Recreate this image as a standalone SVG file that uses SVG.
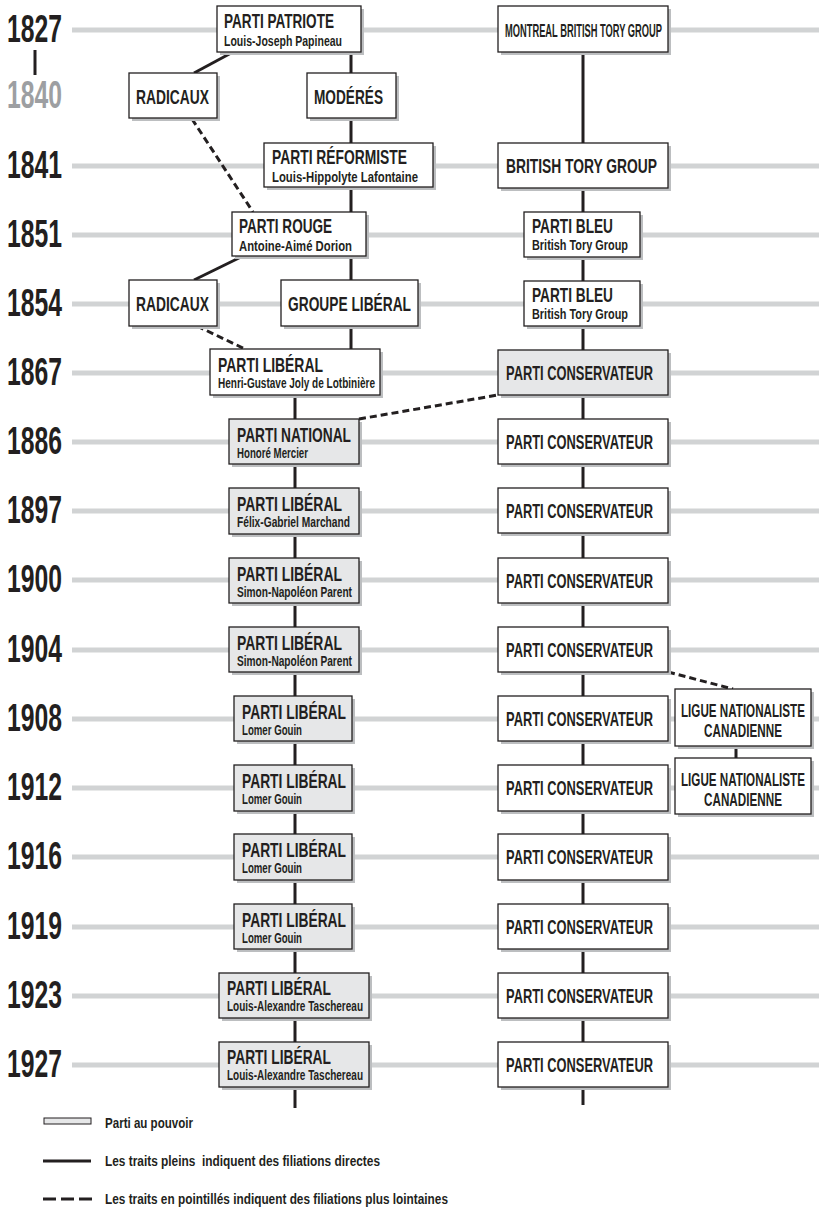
<svg xmlns="http://www.w3.org/2000/svg" width="819" height="1208" viewBox="0 0 819 1208">
<style>
text{font-family:"Liberation Sans Narrow","Liberation Sans",Arial,sans-serif;font-weight:bold;fill:#231f20}
.yr{font-size:39px}
.t{font-size:21px}
.s{font-size:14px}
.lg{font-size:15px}
.row{stroke:#d1d3d4;stroke-width:5}
.box{fill:#fff;stroke:#231f20;stroke-width:1.3}
.pw{fill:#e6e7e8}
.sh{fill:#bcbec0}
.c{stroke:#231f20;stroke-width:3;fill:none}
.d{stroke:#231f20;stroke-width:3;fill:none;stroke-dasharray:7 4}
</style>
<rect width="819" height="1208" fill="#fff"/>
<g id="rows">
<line class="row" x1="72" y1="30" x2="819" y2="30"/>
<line class="row" x1="72" y1="166" x2="819" y2="166"/>
<line class="row" x1="72" y1="235" x2="819" y2="235"/>
<line class="row" x1="72" y1="304" x2="819" y2="304"/>
<line class="row" x1="72" y1="373" x2="819" y2="373"/>
<line class="row" x1="72" y1="442" x2="819" y2="442"/>
<line class="row" x1="72" y1="511" x2="819" y2="511"/>
<line class="row" x1="72" y1="580" x2="819" y2="580"/>
<line class="row" x1="72" y1="650" x2="819" y2="650"/>
<line class="row" x1="72" y1="719" x2="819" y2="719"/>
<line class="row" x1="72" y1="788" x2="819" y2="788"/>
<line class="row" x1="72" y1="857" x2="819" y2="857"/>
<line class="row" x1="72" y1="927" x2="819" y2="927"/>
<line class="row" x1="72" y1="996" x2="819" y2="996"/>
<line class="row" x1="72" y1="1065" x2="819" y2="1065"/>
</g>
<g id="years">
<text class="yr" x="7" y="42" textLength="55" lengthAdjust="spacingAndGlyphs">1827</text>
<line x1="35" y1="50" x2="35" y2="75" stroke="#231f20" stroke-width="3"/>
<text class="yr" x="7" y="108" textLength="55" lengthAdjust="spacingAndGlyphs" style="fill:#9d9fa2">1840</text>
<text class="yr" x="7" y="178" textLength="55" lengthAdjust="spacingAndGlyphs">1841</text>
<text class="yr" x="7" y="247" textLength="55" lengthAdjust="spacingAndGlyphs">1851</text>
<text class="yr" x="7" y="316" textLength="55" lengthAdjust="spacingAndGlyphs">1854</text>
<text class="yr" x="7" y="385" textLength="55" lengthAdjust="spacingAndGlyphs">1867</text>
<text class="yr" x="7" y="454" textLength="55" lengthAdjust="spacingAndGlyphs">1886</text>
<text class="yr" x="7" y="523" textLength="55" lengthAdjust="spacingAndGlyphs">1897</text>
<text class="yr" x="7" y="592" textLength="55" lengthAdjust="spacingAndGlyphs">1900</text>
<text class="yr" x="7" y="662" textLength="55" lengthAdjust="spacingAndGlyphs">1904</text>
<text class="yr" x="7" y="731" textLength="55" lengthAdjust="spacingAndGlyphs">1908</text>
<text class="yr" x="7" y="800" textLength="55" lengthAdjust="spacingAndGlyphs">1912</text>
<text class="yr" x="7" y="869" textLength="55" lengthAdjust="spacingAndGlyphs">1916</text>
<text class="yr" x="7" y="939" textLength="55" lengthAdjust="spacingAndGlyphs">1919</text>
<text class="yr" x="7" y="1008" textLength="55" lengthAdjust="spacingAndGlyphs">1923</text>
<text class="yr" x="7" y="1077" textLength="55" lengthAdjust="spacingAndGlyphs">1927</text>
</g>
<g id="connectors">
<line class="c" x1="233" y1="52" x2="194" y2="73"/>
<line class="c" x1="351" y1="52" x2="351" y2="349"/>
<line class="c" x1="243" y1="256" x2="194" y2="280"/>
<line class="c" x1="295" y1="395" x2="295" y2="1108"/>
<line class="c" x1="583" y1="52" x2="583" y2="1105"/>
<line class="c" x1="736" y1="746" x2="736" y2="758"/>
<line class="d" x1="192" y1="119" x2="253" y2="212"/>
<line class="d" x1="197" y1="326" x2="245" y2="349"/>
<line class="d" x1="359" y1="419" x2="498" y2="395"/>
<line class="d" x1="668" y1="672" x2="733" y2="689"/>
</g>
<g id="n-patriote"><rect class="sh" x="220" y="9" width="144" height="46"/><rect class="box" x="217" y="6" width="144" height="46"/>
<text class="t" x="224" y="28" textLength="110" lengthAdjust="spacingAndGlyphs">PARTI PATRIOTE</text>
<text class="s" x="224" y="46" textLength="118" lengthAdjust="spacingAndGlyphs">Louis-Joseph Papineau</text></g>
<g id="n-radicaux1"><rect class="sh" x="132" y="76" width="88" height="45"/><rect class="box" x="129" y="73" width="88" height="45"/>
<text class="t" x="136" y="104" textLength="73" lengthAdjust="spacingAndGlyphs">RADICAUX</text></g>
<g id="n-moderes"><rect class="sh" x="310" y="76" width="89" height="45"/><rect class="box" x="307" y="73" width="89" height="45"/>
<text class="t" x="314" y="104" textLength="69" lengthAdjust="spacingAndGlyphs">MODÉRÉS</text></g>
<g id="n-reformiste"><rect class="sh" x="267" y="146" width="169" height="44"/><rect class="box" x="264" y="143" width="169" height="44"/>
<text class="t" x="272" y="164" textLength="135" lengthAdjust="spacingAndGlyphs">PARTI RÉFORMISTE</text>
<text class="s" x="272" y="182" textLength="146" lengthAdjust="spacingAndGlyphs">Louis-Hippolyte Lafontaine</text></g>
<g id="n-montreal"><rect class="sh" x="501" y="9" width="170" height="46"/><rect class="box" x="498" y="6" width="170" height="46"/>
<text class="t" x="505" y="37" style="font-size:19px" textLength="157" lengthAdjust="spacingAndGlyphs">MONTREAL BRITISH TORY GROUP</text></g>
<g id="n-btg"><rect class="sh" x="501" y="146" width="170" height="45"/><rect class="box" x="498" y="143" width="170" height="45"/>
<text class="t" x="506" y="173" textLength="151" lengthAdjust="spacingAndGlyphs">BRITISH TORY GROUP</text></g>
<g id="n-rouge"><rect class="sh" x="235" y="215" width="134" height="44"/><rect class="box" x="232" y="212" width="134" height="44"/>
<text class="t" x="239" y="233" textLength="93" lengthAdjust="spacingAndGlyphs">PARTI ROUGE</text>
<text class="s" x="239" y="251" textLength="113" lengthAdjust="spacingAndGlyphs">Antoine-Aimé Dorion</text></g>
<g id="n-bleu1851"><rect class="sh" x="527" y="215" width="116" height="45"/><rect class="box" x="524" y="212" width="116" height="45"/>
<text class="t" x="532" y="233" textLength="81" lengthAdjust="spacingAndGlyphs">PARTI BLEU</text>
<text class="s" x="532" y="250" textLength="96" lengthAdjust="spacingAndGlyphs">British Tory Group</text></g>
<g id="n-radicaux2"><rect class="sh" x="132" y="283" width="88" height="46"/><rect class="box" x="129" y="280" width="88" height="46"/>
<text class="t" x="136" y="311" textLength="73" lengthAdjust="spacingAndGlyphs">RADICAUX</text></g>
<g id="n-groupelib"><rect class="sh" x="284" y="283" width="137" height="46"/><rect class="box" x="281" y="280" width="137" height="46"/>
<text class="t" x="288" y="311" textLength="123" lengthAdjust="spacingAndGlyphs">GROUPE LIBÉRAL</text></g>
<g id="n-bleu1854"><rect class="sh" x="527" y="284" width="116" height="45"/><rect class="box" x="524" y="281" width="116" height="45"/>
<text class="t" x="532" y="302" textLength="81" lengthAdjust="spacingAndGlyphs">PARTI BLEU</text>
<text class="s" x="532" y="319" textLength="96" lengthAdjust="spacingAndGlyphs">British Tory Group</text></g>
<g id="n-lib1867"><rect class="sh" x="213" y="352" width="170" height="46"/><rect class="box" x="210" y="349" width="170" height="46"/>
<text class="t" x="218" y="372" textLength="105" lengthAdjust="spacingAndGlyphs">PARTI LIBÉRAL</text>
<text class="s" x="218" y="388" textLength="157" lengthAdjust="spacingAndGlyphs">Henri-Gustave Joly de Lotbinière</text></g>
<g id="n-cons1867"><rect class="sh" x="501" y="353" width="170" height="45"/><rect class="box pw" x="498" y="350" width="170" height="45"/>
<text class="t" x="506" y="380" textLength="147" lengthAdjust="spacingAndGlyphs">PARTI CONSERVATEUR</text></g>
<g id="n-national"><rect class="sh" x="232" y="422" width="130" height="45"/><rect class="box pw" x="229" y="419" width="130" height="45"/>
<text class="t" x="237" y="442" textLength="114" lengthAdjust="spacingAndGlyphs">PARTI NATIONAL</text>
<text class="s" x="237" y="458" textLength="71" lengthAdjust="spacingAndGlyphs">Honoré Mercier</text></g>
<g id="n-lib1897"><rect class="sh" x="232" y="491" width="130" height="46"/><rect class="box pw" x="229" y="488" width="130" height="46"/>
<text class="t" x="237" y="511" textLength="105" lengthAdjust="spacingAndGlyphs">PARTI LIBÉRAL</text>
<text class="s" x="237" y="527" textLength="113" lengthAdjust="spacingAndGlyphs">Félix-Gabriel Marchand</text></g>
<g id="n-lib1900"><rect class="sh" x="232" y="561" width="130" height="45"/><rect class="box pw" x="229" y="558" width="130" height="45"/>
<text class="t" x="237" y="581" textLength="105" lengthAdjust="spacingAndGlyphs">PARTI LIBÉRAL</text>
<text class="s" x="237" y="597" textLength="115" lengthAdjust="spacingAndGlyphs">Simon-Napoléon Parent</text></g>
<g id="n-lib1904"><rect class="sh" x="232" y="630" width="130" height="45"/><rect class="box pw" x="229" y="627" width="130" height="45"/>
<text class="t" x="237" y="650" textLength="105" lengthAdjust="spacingAndGlyphs">PARTI LIBÉRAL</text>
<text class="s" x="237" y="666" textLength="115" lengthAdjust="spacingAndGlyphs">Simon-Napoléon Parent</text></g>
<g id="n-lib1908"><rect class="sh" x="237" y="699" width="118" height="45"/><rect class="box pw" x="234" y="696" width="118" height="45"/>
<text class="t" x="242" y="719" textLength="104" lengthAdjust="spacingAndGlyphs">PARTI LIBÉRAL</text>
<text class="s" x="242" y="735" textLength="60" lengthAdjust="spacingAndGlyphs">Lomer Gouin</text></g>
<g id="n-lib1912"><rect class="sh" x="237" y="768" width="118" height="46"/><rect class="box pw" x="234" y="765" width="118" height="46"/>
<text class="t" x="242" y="788" textLength="104" lengthAdjust="spacingAndGlyphs">PARTI LIBÉRAL</text>
<text class="s" x="242" y="804" textLength="60" lengthAdjust="spacingAndGlyphs">Lomer Gouin</text></g>
<g id="n-lib1916"><rect class="sh" x="237" y="837" width="118" height="46"/><rect class="box pw" x="234" y="834" width="118" height="46"/>
<text class="t" x="242" y="857" textLength="104" lengthAdjust="spacingAndGlyphs">PARTI LIBÉRAL</text>
<text class="s" x="242" y="873" textLength="60" lengthAdjust="spacingAndGlyphs">Lomer Gouin</text></g>
<g id="n-lib1919"><rect class="sh" x="237" y="907" width="118" height="45"/><rect class="box pw" x="234" y="904" width="118" height="45"/>
<text class="t" x="242" y="927" textLength="104" lengthAdjust="spacingAndGlyphs">PARTI LIBÉRAL</text>
<text class="s" x="242" y="943" textLength="60" lengthAdjust="spacingAndGlyphs">Lomer Gouin</text></g>
<g id="n-lib1923"><rect class="sh" x="222" y="976" width="150" height="45"/><rect class="box pw" x="219" y="973" width="150" height="45"/>
<text class="t" x="227" y="995" textLength="104" lengthAdjust="spacingAndGlyphs">PARTI LIBÉRAL</text>
<text class="s" x="227" y="1011" textLength="136" lengthAdjust="spacingAndGlyphs">Louis-Alexandre Taschereau</text></g>
<g id="n-lib1927"><rect class="sh" x="222" y="1045" width="150" height="45"/><rect class="box pw" x="219" y="1042" width="150" height="45"/>
<text class="t" x="227" y="1064" textLength="104" lengthAdjust="spacingAndGlyphs">PARTI LIBÉRAL</text>
<text class="s" x="227" y="1080" textLength="136" lengthAdjust="spacingAndGlyphs">Louis-Alexandre Taschereau</text></g>
<g id="n-cons1886"><rect class="sh" x="501" y="422" width="170" height="45"/><rect class="box" x="498" y="419" width="170" height="45"/>
<text class="t" x="506" y="449" textLength="147" lengthAdjust="spacingAndGlyphs">PARTI CONSERVATEUR</text></g>
<g id="n-cons1897"><rect class="sh" x="501" y="491" width="170" height="45"/><rect class="box" x="498" y="488" width="170" height="45"/>
<text class="t" x="506" y="518" textLength="147" lengthAdjust="spacingAndGlyphs">PARTI CONSERVATEUR</text></g>
<g id="n-cons1900"><rect class="sh" x="501" y="561" width="170" height="45"/><rect class="box" x="498" y="558" width="170" height="45"/>
<text class="t" x="506" y="588" textLength="147" lengthAdjust="spacingAndGlyphs">PARTI CONSERVATEUR</text></g>
<g id="n-cons1904"><rect class="sh" x="501" y="630" width="170" height="45"/><rect class="box" x="498" y="627" width="170" height="45"/>
<text class="t" x="506" y="657" textLength="147" lengthAdjust="spacingAndGlyphs">PARTI CONSERVATEUR</text></g>
<g id="n-cons1908"><rect class="sh" x="501" y="699" width="170" height="45"/><rect class="box" x="498" y="696" width="170" height="45"/>
<text class="t" x="506" y="726" textLength="147" lengthAdjust="spacingAndGlyphs">PARTI CONSERVATEUR</text></g>
<g id="n-cons1912"><rect class="sh" x="501" y="768" width="170" height="46"/><rect class="box" x="498" y="765" width="170" height="46"/>
<text class="t" x="506" y="795" textLength="147" lengthAdjust="spacingAndGlyphs">PARTI CONSERVATEUR</text></g>
<g id="n-cons1916"><rect class="sh" x="501" y="837" width="170" height="46"/><rect class="box" x="498" y="834" width="170" height="46"/>
<text class="t" x="506" y="864" textLength="147" lengthAdjust="spacingAndGlyphs">PARTI CONSERVATEUR</text></g>
<g id="n-cons1919"><rect class="sh" x="501" y="907" width="170" height="45"/><rect class="box" x="498" y="904" width="170" height="45"/>
<text class="t" x="506" y="934" textLength="147" lengthAdjust="spacingAndGlyphs">PARTI CONSERVATEUR</text></g>
<g id="n-cons1923"><rect class="sh" x="501" y="976" width="170" height="45"/><rect class="box" x="498" y="973" width="170" height="45"/>
<text class="t" x="506" y="1003" textLength="147" lengthAdjust="spacingAndGlyphs">PARTI CONSERVATEUR</text></g>
<g id="n-cons1927"><rect class="sh" x="501" y="1045" width="170" height="45"/><rect class="box" x="498" y="1042" width="170" height="45"/>
<text class="t" x="506" y="1072" textLength="147" lengthAdjust="spacingAndGlyphs">PARTI CONSERVATEUR</text></g>
<g id="n-ligue1908"><rect class="sh" x="678" y="692" width="136" height="57"/><rect class="box" x="675" y="689" width="136" height="57"/>
<text class="t" x="743" y="717" text-anchor="middle" style="font-size:19px" textLength="124" lengthAdjust="spacingAndGlyphs">LIGUE NATIONALISTE</text>
<text class="t" x="743" y="737" text-anchor="middle" style="font-size:19px" textLength="78" lengthAdjust="spacingAndGlyphs">CANADIENNE</text></g>
<g id="n-ligue1912"><rect class="sh" x="678" y="761" width="136" height="56"/><rect class="box" x="675" y="758" width="136" height="56"/>
<text class="t" x="743" y="786" text-anchor="middle" style="font-size:19px" textLength="124" lengthAdjust="spacingAndGlyphs">LIGUE NATIONALISTE</text>
<text class="t" x="743" y="806" text-anchor="middle" style="font-size:19px" textLength="78" lengthAdjust="spacingAndGlyphs">CANADIENNE</text></g>
<g id="legend">
<rect x="44" y="1118" width="47" height="6" fill="#e6e7e8" stroke="#231f20" stroke-width="1"/>
<text class="lg" x="105" y="1128" textLength="88" lengthAdjust="spacingAndGlyphs">Parti au pouvoir</text>
<line class="c" x1="43" y1="1161" x2="91" y2="1161"/>
<text class="lg" x="105" y="1166" xml:space="preserve" textLength="275" lengthAdjust="spacingAndGlyphs">Les traits pleins  indiquent des filiations directes</text>
<line class="c" x1="43" y1="1199" x2="92" y2="1199" style="stroke-dasharray:13 5"/>
<text class="lg" x="105" y="1204" textLength="343" lengthAdjust="spacingAndGlyphs">Les traits en pointillés indiquent des filiations plus lointaines</text>
</g>
</svg>
